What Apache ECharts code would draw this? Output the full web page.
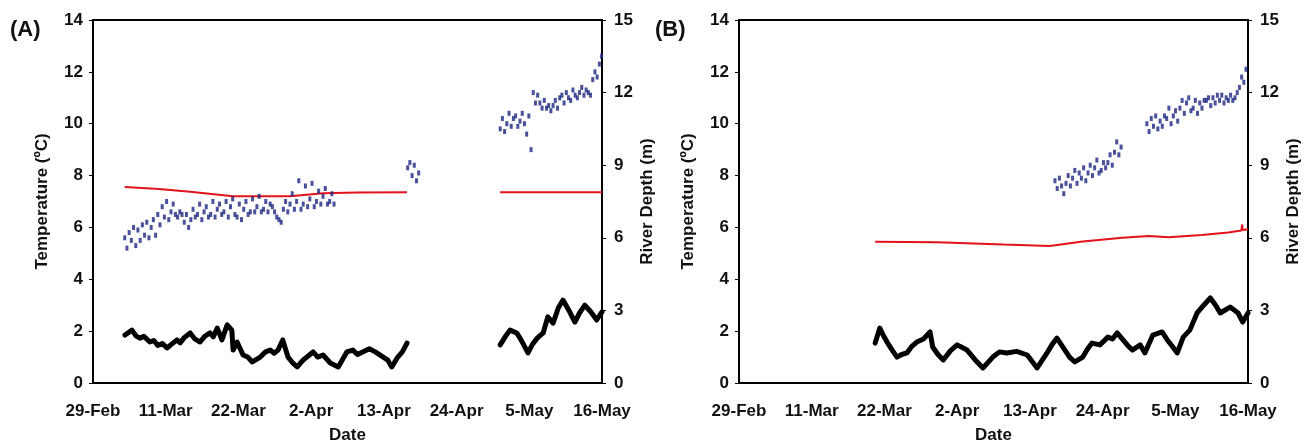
<!DOCTYPE html>
<html><head><meta charset="utf-8">
<script src="https://cdn.jsdelivr.net/npm/echarts@6/dist/echarts.min.js"></script>
<style>html,body{margin:0;padding:0;background:#fff}#c{width:1309px;height:444px}</style>
</head><body><div id="c"></div>
<script>
// x values are days since 29-Feb
const tickLabels = ['29-Feb','11-Mar','22-Mar','2-Apr','13-Apr','24-Apr','5-May','16-May'];
const panelLabels = ['(A)','(B)'];

// Blue temperature samples (8-hourly), [start day, values]
const tempA1Start = 4.8;
const tempA1 = [5.6,5.2,5.8, 5.5,6.0,5.3, 5.9,5.5,6.1, 5.7,6.2,5.6, 6.0,6.3,5.7, 6.5,6.1,6.8,
  6.4,7.0,6.3, 6.6,6.9,6.5, 6.4,6.6,6.5, 6.2,6.5,6.0, 6.3,6.7,6.4, 6.5,6.9,6.3,
  6.6,6.8,6.4, 6.5,7.0,6.4, 6.7,6.9,6.5, 6.6,7.0,6.4, 6.8,7.1,6.5, 6.4,6.9,6.3,
  6.7,7.0,6.5, 6.6,7.1,6.6, 6.8,7.2,6.6, 6.7,7.0,6.6, 6.9,6.8,6.6, 6.4,6.3,6.2,
  6.7,7.0,6.6, 6.9,7.3,6.7, 7.0,7.8,6.7, 6.9,7.6,6.8, 7.1,7.7,6.8, 7.0,7.4,6.9,
  7.2,7.5,6.9, 7.0,7.3,6.9];
const tempA2Start = 47.6;
const tempA2 = [8.3,8.5,8.0,8.4,7.8,8.1];
const tempA3Start = 61.6;
const tempA3 = [9.8,10.2,9.7, 10.0,10.4,9.9, 10.2,10.3,9.9, 10.1,10.4,10.0, 9.6,10.3,9.0,
  11.2,10.8,11.1, 10.8,10.6,10.9, 10.6,10.7,10.5, 10.7,10.9,10.6, 11.0,11.1,10.8,
  11.2,11.0,10.9, 11.3,11.1,11.0, 11.2,11.4,11.1, 11.3,11.2,11.1, 11.7,12.0,11.8, 12.3,12.6];
const tempB1Start = 47.8;
const tempB1 = [7.8,7.5,7.9, 7.6,7.3,7.7, 8.0,7.6,7.9, 8.2,7.7,8.1, 7.9,8.3,7.8,
  8.1,8.4,8.0, 8.3,8.6,8.1, 8.2,8.5,8.3, 8.5,8.8,8.4, 8.9,9.3,8.8, 9.1];
const tempB2Start = 61.7;
const tempB2 = [10.0,9.7,10.2, 9.9,10.3,9.8, 10.1,9.9,10.3, 10.2,10.6,10.0, 10.3,10.5,10.1,
  10.6,10.9,10.4, 10.8,11.0,10.5, 10.6,10.9,10.4, 10.8,10.6,10.9, 10.9,11.0,10.7,
  11.0,10.8,11.1, 10.9,11.1,10.8, 11.0,10.9,11.1, 10.9,11.0,11.2, 11.4,11.8,11.6, 12.1,12.5];
const tempStep = 1/3;

// Red river depth (m), [day, depth]
const depthA1 = [[4.8,8.1],[10,8.02],[14.7,7.9],[21.2,7.72],[29.8,7.72],[34.8,7.84],[40,7.87],[47.5,7.88]];
const depthA2 = [[61.6,7.88],[70,7.88],[77,7.88]];
const depthB = [[20.6,5.84],[30,5.82],[40,5.72],[47,5.66],[52,5.85],[58,6.0],[62,6.07],[65,6.02],[70,6.12],[74,6.22],[76,6.3],[76.1,6.55],[76.2,6.32],[77,6.35]];

// Black line (left axis), [day, value]
const blackA1 = [[4.84,1.85],[5.9,2.04],[6.5,1.82],[7.1,1.73],[7.7,1.80],[8.6,1.58],[9.2,1.64],[9.8,1.45],[10.5,1.52],[11.2,1.35],[11.9,1.50],[12.7,1.66],[13.2,1.55],[13.8,1.75],[14.7,1.93],[15.4,1.70],[16.2,1.58],[16.9,1.80],[17.7,1.93],[18.2,1.78],[18.8,2.12],[19.5,1.66],[19.9,1.95],[20.3,2.24],[21.0,2.04],[21.2,1.27],[21.8,1.58],[22.7,1.08],[23.4,1.0],[24.1,0.81],[25.3,1.0],[26.1,1.2],[26.8,1.27],[27.4,1.15],[28.0,1.27],[28.7,1.66],[29.5,1.0],[30.2,0.78],[30.9,0.62],[31.8,0.89],[32.6,1.05],[33.3,1.2],[34.0,1.0],[34.8,1.08],[35.9,0.77],[37.1,0.62],[38.4,1.2],[39.3,1.27],[40.0,1.1],[40.8,1.2],[41.8,1.32],[42.7,1.2],[43.9,1.0],[44.6,0.88],[45.2,0.62],[46.1,1.0],[46.8,1.2],[47.5,1.54]];
const blackA2 = [[61.6,1.47],[62.4,1.8],[63.1,2.04],[64.1,1.93],[64.6,1.73],[65.2,1.45],[65.8,1.16],[66.5,1.5],[67.2,1.73],[68.1,1.93],[68.8,2.55],[69.6,2.31],[70.4,2.9],[71.1,3.2],[72.0,2.8],[72.9,2.35],[73.6,2.7],[74.4,3.0],[75.3,2.75],[76.2,2.43],[77.0,2.74]];
const blackB = [[20.6,1.54],[21.3,2.12],[21.8,1.85],[22.4,1.58],[23.1,1.3],[23.9,1.0],[24.6,1.1],[25.4,1.16],[26.1,1.4],[26.9,1.58],[27.9,1.7],[28.9,1.97],[29.3,1.39],[30.1,1.1],[30.9,0.89],[32.0,1.25],[33.0,1.47],[34.5,1.27],[35.7,0.9],[36.9,0.58],[38.4,1.0],[39.4,1.2],[40.5,1.16],[42.0,1.22],[43.6,1.08],[45.1,0.58],[46.6,1.16],[47.4,1.5],[48.1,1.73],[49.3,1.27],[50.0,1.0],[50.8,0.81],[52.0,1.0],[52.7,1.3],[53.4,1.54],[54.6,1.47],[55.8,1.77],[56.5,1.7],[57.2,1.93],[58.1,1.66],[58.8,1.45],[59.5,1.27],[60.7,1.47],[61.4,1.16],[62.6,1.85],[64.0,1.97],[64.8,1.66],[65.6,1.4],[66.3,1.16],[67.2,1.77],[68.2,2.04],[69.3,2.7],[70.3,3.0],[71.3,3.28],[72.1,3.0],[72.8,2.7],[74.3,2.93],[75.5,2.7],[76.2,2.35],[77.0,2.7]];

function pts(start, vals){ return vals.map((v,i)=>[start + i*tempStep, v]); }

const FONT = 'Liberation Sans, Arial, sans-serif';
const tickStyle = {fontFamily: FONT, fontWeight: 'bold', fontSize: 17, color: '#111'};
const nameStyle = {fontFamily: FONT, fontWeight: 'bold', fontSize: 17, color: '#111'};

function xAxis(i){
  return {type:'value', gridIndex:i, min:0, max:77, interval:11,
    axisLine:{show:true, onZero:false, lineStyle:{color:'#000', width:2}},
    axisTick:{show:false}, splitLine:{show:false},
    axisLabel:{...tickStyle, margin:20, formatter:(v)=>tickLabels[Math.round(v/11)]},
    name:'Date', nameLocation:'middle', nameGap:44, nameTextStyle:nameStyle};
}
function yLeft(i){
  return {type:'value', gridIndex:i, min:0, max:14, interval:2, position:'left',
    axisLine:{show:true, lineStyle:{color:'#000', width:2}},
    axisTick:{show:true, length:4, lineStyle:{color:'#000'}}, splitLine:{show:false},
    axisLabel:{...tickStyle, margin:10},
    name:'Temperature (ºC)', nameLocation:'middle', nameGap:42, nameRotate:90, nameTextStyle:nameStyle};
}
function yRight(i){
  return {type:'value', gridIndex:i, min:0, max:15, interval:3, position:'right',
    axisLine:{show:true, lineStyle:{color:'#000', width:2}},
    axisTick:{show:true, length:4, lineStyle:{color:'#000'}}, splitLine:{show:false},
    axisLabel:{...tickStyle, margin:12},
    name:'River Depth (m)', nameLocation:'middle', nameGap:37, nameRotate:90, nameTextStyle:nameStyle};
}
const BLUE = '#1a2580', RED = '#e3121b';
function blue(x, y, data){ return {type:'scatter', xAxisIndex:x, yAxisIndex:y, data, symbol:'rect', symbolSize:[3,5], itemStyle:{color:BLUE}, silent:true, z:3}; }
function red(x, y, data){ return {type:'line', xAxisIndex:x, yAxisIndex:y, data, showSymbol:false, lineStyle:{color:RED, width:2}, silent:true, z:2}; }
function black(x, y, data){ return {type:'line', xAxisIndex:x, yAxisIndex:y, data, showSymbol:false, lineStyle:{color:'#000', width:5, join:'round', cap:'round'}, silent:true, z:4}; }

const chart = echarts.init(document.getElementById('c'), null, {renderer:'canvas'});
chart.setOption({
  animation:false,
  backgroundColor:'#fff',
  grid:[
    {left:93, right:707, top:20, bottom:61, show:true, borderColor:'#000', borderWidth:2, backgroundColor:'transparent', containLabel:false, outerBoundsMode:'none'},
    {left:739, right:61, top:20, bottom:61, show:true, borderColor:'#000', borderWidth:2, backgroundColor:'transparent', containLabel:false, outerBoundsMode:'none'}
  ],
  xAxis:[xAxis(0), xAxis(1)],
  yAxis:[yLeft(0), yRight(0), yLeft(1), yRight(1)],
  graphic:[
    {type:'text', left:10, top:19, style:{text:panelLabels[0], font:'bold 22px ' + FONT, fill:'#111'}},
    {type:'text', left:655, top:19, style:{text:panelLabels[1], font:'bold 22px ' + FONT, fill:'#111'}}
  ],
  series:[
    red(0,1,depthA1), red(0,1,depthA2),
    blue(0,0,pts(tempA1Start,tempA1)), blue(0,0,pts(tempA2Start,tempA2)), blue(0,0,pts(tempA3Start,tempA3)),
    black(0,0,blackA1), black(0,0,blackA2),
    red(1,3,depthB),
    blue(1,2,pts(tempB1Start,tempB1)), blue(1,2,pts(tempB2Start,tempB2)),
    black(1,2,blackB)
  ]
});
</script></body></html>
